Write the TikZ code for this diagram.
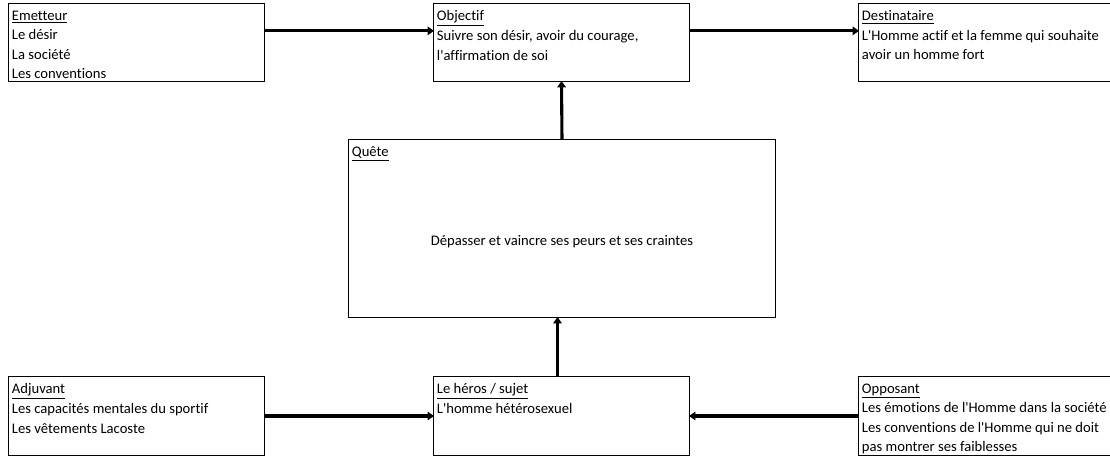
\documentclass[tikz,border=0pt]{standalone}
\usepackage{fontspec}
\setmainfont{Carlito}[Ligatures={TeXOff,NoCommon}]
\usepackage{tikz}
\usetikzlibrary{arrows.meta}

\begin{document}
\begin{tikzpicture}[x=0.025cm, y=-0.025cm,
  actant/.style={draw, line width=0.7pt, inner xsep=0.075cm, inner ysep=0.17cm,
                 outer sep=0pt, font=\fontsize{10.4}{13.9}\selectfont},
  fleche/.style={line width=2.2pt, -{Triangle[length=4.5pt,width=6pt]}}]

\useasboundingbox (0,0) rectangle (1110,457);

% ligne du haut
\draw (136.5, 42.5) node[actant] (emetteur) {
\begin{minipage}[t][1.585cm]{6.225cm}
\underline{Emetteur}\\
Le désir\\
La société\\
Les conventions
\end{minipage}
};
\draw (561.5, 42.5) node[actant] (objectif) {
\begin{minipage}[t][1.585cm]{6.225cm}
\underline{Objectif}\\
Suivre son désir, avoir du courage,\\
l'affirmation de soi
\end{minipage}
};
\draw (986.5, 42.5) node[actant] (destinataire) {
\begin{minipage}[t][1.585cm]{6.225cm}
\underline{Destinataire}\\
L'Homme actif et la femme qui souhaite\\
avoir un homme fort
\end{minipage}
};

% quete
\draw (562, 228.5) node[actant] (quete) {
\begin{minipage}[t][4.085cm]{10.5cm}
\underline{Quête}\par
\vspace*{0.6cm}\vfill
\centering Dépasser et vaincre ses peurs et ses craintes\par
\vfill\hbox{}
\end{minipage}
};

% ligne du bas
\draw (136.5, 416) node[actant] (adjuvant) {
\begin{minipage}[t][1.61cm]{6.225cm}
\underline{Adjuvant}\\
Les capacités mentales du sportif\\
Les vêtements Lacoste
\end{minipage}
};
\draw (561.5, 416) node[actant] (heros) {
\begin{minipage}[t][1.61cm]{6.225cm}
\underline{Le héros / sujet}\\
L'homme hétérosexuel
\end{minipage}
};
\draw (986.5, 416) node[actant] (opposant) {
\begin{minipage}[t][1.61cm]{6.225cm}
\underline{Opposant}\\
Les émotions de l'Homme dans la société\\
Les conventions de l'Homme qui ne doit\\
pas montrer ses faiblesses
\end{minipage}
};

% fleches
\draw[fleche] ([yshift=0.29cm]emetteur.east) -- ([yshift=0.29cm]objectif.west);
\draw[fleche] ([yshift=0.29cm]objectif.east) -- ([yshift=0.29cm]destinataire.west);
\draw[fleche] (quete.north) -- (objectif.south);
\draw[fleche] ([xshift=-0.1cm]heros.north) -- ([xshift=-0.1cm]quete.south -| heros.north);
\draw[fleche] (adjuvant) -- (heros);
\draw[fleche] (opposant) -- (heros);
\end{tikzpicture}
\end{document}
